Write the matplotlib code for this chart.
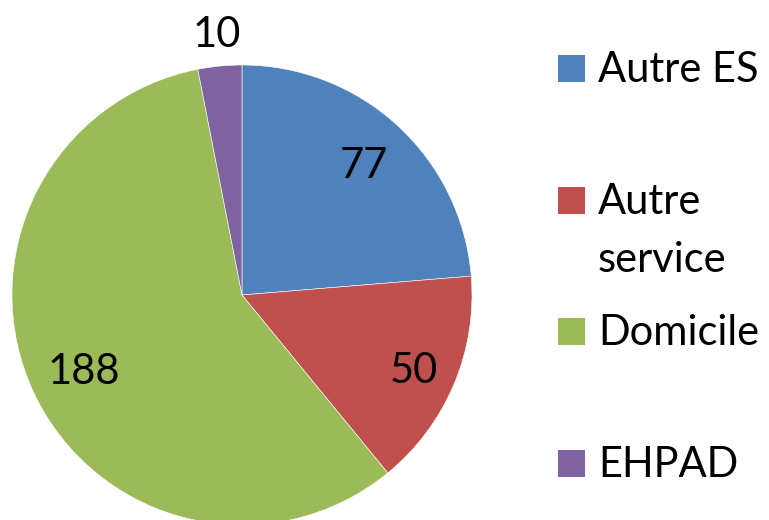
import matplotlib.pyplot as plt
from matplotlib.patches import Rectangle
import numpy as np

categories = ["Autre ES", "Autre service", "Domicile", "EHPAD"]
values = [77, 50, 188, 10]
colors = ["#4F81BD", "#C0504D", "#9BBB59", "#8064A2"]
# legend lines (the second entry wraps over two lines)
legend_lines = [["Autre ES"], ["Autre", "service"], ["Domicile"], ["EHPAD"]]

plt.rcParams["font.family"] = ["Lato", "DejaVu Sans"]

W, H = 769, 520
fig = plt.figure(figsize=(W / 100, H / 100), dpi=100)
ax = fig.add_axes([0, 0, 1, 1])
ax.set_xlim(0, W)
ax.set_ylim(0, H)
ax.set_aspect("equal")
ax.axis("off")

cx, cy, r = 242, H - 295, 230
wedges, _ = ax.pie(values, colors=colors, startangle=90, counterclock=False,
                   center=(cx, cy), radius=r, frame=True,
                   wedgeprops=dict(edgecolor="white", linewidth=0.4))
ax.set_xlim(0, W)
ax.set_ylim(0, H)
ax.axis("off")

# data labels, placed along each wedge's middle angle
label_dist = [0.78, 0.81, 0.76, 1.15]
for w, v, d in zip(wedges, values, label_dist):
    ang = np.deg2rad((w.theta1 + w.theta2) / 2)
    x = cx + d * r * np.cos(ang)
    y = cy + d * r * np.sin(ang)
    ax.text(x, y - 15, str(v), fontsize=30, ha="center", va="baseline",
            color="black")

# legend on the right
sq_x, sq = 558, 27
txt_x = 598
first_baselines = [82, 214, 345, 477]
line_gap = 58
for lines, col, b in zip(legend_lines, colors, first_baselines):
    ax.add_patch(Rectangle((sq_x, H - b), sq, sq, facecolor=col,
                           edgecolor="none"))
    for i, t in enumerate(lines):
        ax.text(txt_x, H - (b + i * line_gap), t, fontsize=30,
                ha="left", va="baseline", color="black")

fig.savefig("out.png", dpi=100)
